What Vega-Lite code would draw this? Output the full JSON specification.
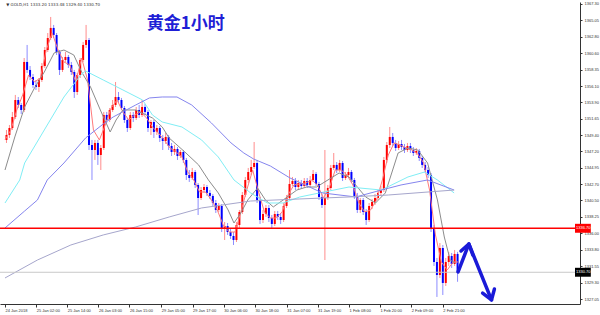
{
"$schema":"https://vega.github.io/schema/vega-lite/v6.json",
"width":580,"height":302,
"autosize":"none",
"padding":{"left":0,"top":2,"right":20,"bottom":11},
"background":"#ffffff",
"config":{"view":{"stroke":null},"font":"Liberation Sans","axis":{"labelOverlap":false,"labelBound":false,"labelSeparation":0}},
"datasets":{
"candles":[
{"t":0.5,"o":1348.75,"h":1350.11,"l":1348.34,"c":1349.43},
{"t":1.5,"o":1349.43,"h":1350.79,"l":1349.02,"c":1350.38},
{"t":2.5,"o":1350.38,"h":1352.57,"l":1350.11,"c":1351.88},
{"t":3.5,"o":1351.88,"h":1354.89,"l":1351.61,"c":1354.20},
{"t":4.5,"o":1354.20,"h":1354.61,"l":1353.11,"c":1353.52},
{"t":5.5,"o":1353.52,"h":1353.79,"l":1352.29,"c":1352.84},
{"t":6.5,"o":1352.84,"h":1359.93,"l":1352.57,"c":1359.39},
{"t":7.5,"o":1359.39,"h":1361.71,"l":1357.89,"c":1358.30},
{"t":8.5,"o":1358.30,"h":1358.84,"l":1356.93,"c":1357.34},
{"t":9.5,"o":1357.34,"h":1357.75,"l":1355.84,"c":1356.25},
{"t":10.5,"o":1356.25,"h":1356.93,"l":1355.57,"c":1355.98},
{"t":11.5,"o":1355.98,"h":1357.20,"l":1355.29,"c":1356.93},
{"t":12.5,"o":1356.93,"h":1359.25,"l":1356.66,"c":1358.84},
{"t":13.5,"o":1358.84,"h":1361.43,"l":1358.57,"c":1361.02},
{"t":14.5,"o":1361.02,"h":1363.34,"l":1360.75,"c":1362.66},
{"t":15.5,"o":1362.66,"h":1365.53,"l":1362.39,"c":1364.03},
{"t":16.5,"o":1364.03,"h":1364.44,"l":1362.66,"c":1363.07},
{"t":17.5,"o":1363.07,"h":1363.34,"l":1360.34,"c":1360.75},
{"t":18.5,"o":1360.75,"h":1361.02,"l":1357.61,"c":1358.30},
{"t":19.5,"o":1358.30,"h":1360.07,"l":1358.02,"c":1359.66},
{"t":20.5,"o":1359.66,"h":1360.75,"l":1359.39,"c":1360.07},
{"t":21.5,"o":1360.07,"h":1360.34,"l":1358.57,"c":1358.98},
{"t":22.5,"o":1358.98,"h":1359.39,"l":1357.61,"c":1358.02},
{"t":23.5,"o":1358.02,"h":1358.30,"l":1354.48,"c":1355.29},
{"t":24.5,"o":1355.29,"h":1357.89,"l":1354.89,"c":1357.61},
{"t":25.5,"o":1357.61,"h":1359.93,"l":1357.20,"c":1359.66},
{"t":26.5,"o":1359.66,"h":1362.12,"l":1359.39,"c":1361.71},
{"t":27.5,"o":1361.71,"h":1364.44,"l":1361.30,"c":1362.39},
{"t":28.5,"o":1362.39,"h":1362.66,"l":1347.38,"c":1348.06},
{"t":29.5,"o":1348.06,"h":1348.75,"l":1343.29,"c":1347.38},
{"t":30.5,"o":1347.38,"h":1348.75,"l":1346.02,"c":1348.34},
{"t":31.5,"o":1348.34,"h":1348.75,"l":1345.34,"c":1346.70},
{"t":32.5,"o":1346.70,"h":1348.06,"l":1344.65,"c":1347.65},
{"t":33.5,"o":1347.65,"h":1352.57,"l":1347.38,"c":1352.16},
{"t":34.5,"o":1352.16,"h":1352.57,"l":1351.07,"c":1351.47},
{"t":35.5,"o":1351.47,"h":1353.11,"l":1351.20,"c":1352.84},
{"t":36.5,"o":1352.84,"h":1354.20,"l":1352.57,"c":1353.52},
{"t":37.5,"o":1353.52,"h":1356.66,"l":1353.25,"c":1354.61},
{"t":38.5,"o":1354.61,"h":1355.29,"l":1353.79,"c":1354.20},
{"t":39.5,"o":1354.20,"h":1354.48,"l":1352.84,"c":1353.11},
{"t":40.5,"o":1353.11,"h":1353.38,"l":1351.07,"c":1351.47},
{"t":41.5,"o":1351.47,"h":1351.75,"l":1349.84,"c":1350.38},
{"t":42.5,"o":1350.38,"h":1352.57,"l":1350.11,"c":1352.16},
{"t":43.5,"o":1352.16,"h":1352.57,"l":1351.20,"c":1351.75},
{"t":44.5,"o":1351.75,"h":1353.25,"l":1351.47,"c":1352.84},
{"t":45.5,"o":1352.84,"h":1353.52,"l":1351.75,"c":1352.16},
{"t":46.5,"o":1352.16,"h":1354.20,"l":1351.88,"c":1353.25},
{"t":47.5,"o":1353.25,"h":1353.66,"l":1352.16,"c":1352.57},
{"t":48.5,"o":1352.57,"h":1352.84,"l":1349.84,"c":1350.38},
{"t":49.5,"o":1350.38,"h":1351.47,"l":1349.43,"c":1351.20},
{"t":50.5,"o":1351.20,"h":1351.47,"l":1349.02,"c":1349.84},
{"t":51.5,"o":1349.84,"h":1350.79,"l":1349.43,"c":1350.38},
{"t":52.5,"o":1350.38,"h":1350.66,"l":1348.47,"c":1349.02},
{"t":53.5,"o":1349.02,"h":1349.43,"l":1347.38,"c":1348.61},
{"t":54.5,"o":1348.61,"h":1349.70,"l":1348.20,"c":1349.16},
{"t":55.5,"o":1349.16,"h":1349.43,"l":1347.38,"c":1347.93},
{"t":56.5,"o":1347.93,"h":1348.34,"l":1346.56,"c":1347.11},
{"t":57.5,"o":1347.11,"h":1348.06,"l":1346.70,"c":1347.52},
{"t":58.5,"o":1347.52,"h":1347.79,"l":1346.02,"c":1346.56},
{"t":59.5,"o":1346.56,"h":1347.38,"l":1346.29,"c":1347.11},
{"t":60.5,"o":1347.11,"h":1347.38,"l":1345.61,"c":1346.02},
{"t":61.5,"o":1346.02,"h":1346.29,"l":1343.29,"c":1343.97},
{"t":62.5,"o":1343.97,"h":1344.65,"l":1343.02,"c":1343.56},
{"t":63.5,"o":1343.56,"h":1344.93,"l":1343.29,"c":1344.38},
{"t":64.5,"o":1344.38,"h":1344.65,"l":1342.20,"c":1342.61},
{"t":65.5,"o":1342.61,"h":1342.88,"l":1338.51,"c":1340.83},
{"t":66.5,"o":1340.83,"h":1342.33,"l":1340.56,"c":1341.92},
{"t":67.5,"o":1341.92,"h":1342.74,"l":1341.52,"c":1342.33},
{"t":68.5,"o":1342.33,"h":1342.61,"l":1341.11,"c":1341.52},
{"t":69.5,"o":1341.52,"h":1341.92,"l":1340.70,"c":1341.11},
{"t":70.5,"o":1341.11,"h":1341.38,"l":1339.74,"c":1340.15},
{"t":71.5,"o":1340.15,"h":1340.56,"l":1338.79,"c":1339.20},
{"t":72.5,"o":1339.20,"h":1340.15,"l":1338.92,"c":1339.74},
{"t":73.5,"o":1339.74,"h":1340.01,"l":1336.19,"c":1336.74},
{"t":74.5,"o":1336.74,"h":1337.56,"l":1335.10,"c":1337.01},
{"t":75.5,"o":1337.01,"h":1337.42,"l":1335.79,"c":1336.19},
{"t":76.5,"o":1336.19,"h":1336.60,"l":1335.24,"c":1335.65},
{"t":77.5,"o":1335.65,"h":1336.19,"l":1334.42,"c":1335.10},
{"t":78.5,"o":1335.10,"h":1337.56,"l":1334.83,"c":1337.15},
{"t":79.5,"o":1337.15,"h":1339.20,"l":1336.74,"c":1338.92},
{"t":80.5,"o":1338.92,"h":1341.65,"l":1338.65,"c":1341.24},
{"t":81.5,"o":1341.24,"h":1343.70,"l":1340.97,"c":1343.29},
{"t":82.5,"o":1343.29,"h":1344.93,"l":1342.88,"c":1344.38},
{"t":83.5,"o":1344.38,"h":1346.02,"l":1343.97,"c":1345.06},
{"t":84.5,"o":1345.06,"h":1348.47,"l":1344.79,"c":1345.61},
{"t":85.5,"o":1345.61,"h":1346.02,"l":1340.15,"c":1340.56},
{"t":86.5,"o":1340.56,"h":1340.97,"l":1337.29,"c":1337.83},
{"t":87.5,"o":1337.83,"h":1339.20,"l":1337.42,"c":1338.65},
{"t":88.5,"o":1338.65,"h":1339.88,"l":1338.24,"c":1339.47},
{"t":89.5,"o":1339.47,"h":1339.88,"l":1337.56,"c":1338.10},
{"t":90.5,"o":1338.10,"h":1338.51,"l":1336.74,"c":1337.29},
{"t":91.5,"o":1337.29,"h":1339.06,"l":1337.01,"c":1338.65},
{"t":92.5,"o":1338.65,"h":1339.06,"l":1337.83,"c":1338.24},
{"t":93.5,"o":1338.24,"h":1338.79,"l":1337.29,"c":1337.83},
{"t":94.5,"o":1337.83,"h":1340.15,"l":1337.56,"c":1339.74},
{"t":95.5,"o":1339.74,"h":1341.24,"l":1339.47,"c":1340.83},
{"t":96.5,"o":1340.83,"h":1344.65,"l":1340.56,"c":1342.74},
{"t":97.5,"o":1342.74,"h":1343.70,"l":1342.47,"c":1343.15},
{"t":98.5,"o":1343.15,"h":1343.56,"l":1341.92,"c":1342.33},
{"t":99.5,"o":1342.33,"h":1343.29,"l":1341.92,"c":1342.88},
{"t":100.5,"o":1342.88,"h":1343.29,"l":1342.06,"c":1342.47},
{"t":101.5,"o":1342.47,"h":1343.56,"l":1342.20,"c":1343.15},
{"t":102.5,"o":1343.15,"h":1343.56,"l":1342.20,"c":1342.61},
{"t":103.5,"o":1342.61,"h":1343.83,"l":1342.33,"c":1343.29},
{"t":104.5,"o":1343.29,"h":1344.65,"l":1343.02,"c":1344.11},
{"t":105.5,"o":1344.11,"h":1344.38,"l":1342.47,"c":1342.74},
{"t":106.5,"o":1342.74,"h":1343.02,"l":1340.56,"c":1340.97},
{"t":107.5,"o":1340.97,"h":1341.38,"l":1339.47,"c":1339.88},
{"t":108.5,"o":1339.88,"h":1347.38,"l":1332.37,"c":1340.83},
{"t":109.5,"o":1340.83,"h":1342.61,"l":1340.56,"c":1342.20},
{"t":110.5,"o":1342.20,"h":1345.34,"l":1341.92,"c":1344.93},
{"t":111.5,"o":1344.93,"h":1346.97,"l":1344.65,"c":1345.34},
{"t":112.5,"o":1345.34,"h":1345.74,"l":1344.24,"c":1344.65},
{"t":113.5,"o":1344.65,"h":1346.02,"l":1344.38,"c":1345.61},
{"t":114.5,"o":1345.61,"h":1345.88,"l":1343.15,"c":1343.56},
{"t":115.5,"o":1343.56,"h":1344.38,"l":1343.29,"c":1343.97},
{"t":116.5,"o":1343.97,"h":1344.93,"l":1343.56,"c":1344.38},
{"t":117.5,"o":1344.38,"h":1344.65,"l":1342.88,"c":1343.29},
{"t":118.5,"o":1343.29,"h":1343.56,"l":1340.70,"c":1341.11},
{"t":119.5,"o":1341.11,"h":1341.52,"l":1338.79,"c":1339.20},
{"t":120.5,"o":1339.20,"h":1340.83,"l":1338.79,"c":1340.56},
{"t":121.5,"o":1340.56,"h":1340.83,"l":1338.51,"c":1338.92},
{"t":122.5,"o":1338.92,"h":1339.33,"l":1337.15,"c":1337.83},
{"t":123.5,"o":1337.83,"h":1340.15,"l":1337.56,"c":1339.74},
{"t":124.5,"o":1339.74,"h":1340.70,"l":1339.33,"c":1340.29},
{"t":125.5,"o":1340.29,"h":1341.38,"l":1339.88,"c":1340.83},
{"t":126.5,"o":1340.83,"h":1341.92,"l":1340.56,"c":1341.52},
{"t":127.5,"o":1341.52,"h":1342.47,"l":1341.11,"c":1341.92},
{"t":128.5,"o":1341.92,"h":1346.43,"l":1341.65,"c":1346.02},
{"t":129.5,"o":1346.02,"h":1348.47,"l":1345.61,"c":1348.06},
{"t":130.5,"o":1348.06,"h":1350.52,"l":1347.65,"c":1349.16},
{"t":131.5,"o":1349.16,"h":1349.70,"l":1347.93,"c":1348.34},
{"t":132.5,"o":1348.34,"h":1348.75,"l":1347.25,"c":1347.65},
{"t":133.5,"o":1347.65,"h":1348.61,"l":1347.38,"c":1348.20},
{"t":134.5,"o":1348.20,"h":1348.75,"l":1347.38,"c":1347.79},
{"t":135.5,"o":1347.79,"h":1348.20,"l":1346.97,"c":1347.38},
{"t":136.5,"o":1347.38,"h":1348.34,"l":1347.11,"c":1347.93},
{"t":137.5,"o":1347.93,"h":1348.34,"l":1346.97,"c":1347.38},
{"t":138.5,"o":1347.38,"h":1347.79,"l":1346.56,"c":1346.97},
{"t":139.5,"o":1346.97,"h":1347.65,"l":1346.70,"c":1347.25},
{"t":140.5,"o":1347.25,"h":1347.52,"l":1345.88,"c":1346.29},
{"t":141.5,"o":1346.29,"h":1346.56,"l":1344.93,"c":1345.34},
{"t":142.5,"o":1345.34,"h":1345.74,"l":1344.24,"c":1344.65},
{"t":143.5,"o":1344.65,"h":1345.06,"l":1343.56,"c":1343.97},
{"t":144.5,"o":1343.97,"h":1344.24,"l":1336.19,"c":1336.74},
{"t":145.5,"o":1336.74,"h":1337.15,"l":1331.56,"c":1332.10},
{"t":146.5,"o":1332.10,"h":1332.65,"l":1327.33,"c":1330.33},
{"t":147.5,"o":1330.33,"h":1334.69,"l":1329.92,"c":1334.01},
{"t":148.5,"o":1334.01,"h":1334.42,"l":1327.60,"c":1329.24},
{"t":149.5,"o":1329.24,"h":1332.65,"l":1328.83,"c":1332.10},
{"t":150.5,"o":1332.10,"h":1333.47,"l":1331.56,"c":1332.92},
{"t":151.5,"o":1332.92,"h":1333.33,"l":1331.28,"c":1331.83},
{"t":152.5,"o":1331.83,"h":1333.74,"l":1331.56,"c":1333.20},
{"t":153.5,"o":1333.20,"h":1333.48,"l":1329.40,"c":1330.70}
],
"ma":[
{"s":"fast","t":0,"v":1348.75},{"s":"fast","t":2,"v":1350.11},{"s":"fast","t":4,"v":1352.84},{"s":"fast","t":6,"v":1354.89},{"s":"fast","t":8,"v":1357.61},{"s":"fast","t":10,"v":1356.66},{"s":"fast","t":12,"v":1357.20},{"s":"fast","t":14,"v":1361.02},{"s":"fast","t":16,"v":1363.34},{"s":"fast","t":18,"v":1361.02},{"s":"fast","t":20,"v":1359.39},{"s":"fast","t":22,"v":1358.98},{"s":"fast","t":24,"v":1356.66},{"s":"fast","t":26,"v":1359.93},{"s":"fast","t":28,"v":1356.93},{"s":"fast","t":30,"v":1350.11},{"s":"fast","t":32,"v":1348.75},{"s":"fast","t":34,"v":1350.79},{"s":"fast","t":36,"v":1353.11},{"s":"fast","t":38,"v":1354.20},{"s":"fast","t":40,"v":1352.57},{"s":"fast","t":42,"v":1351.47},{"s":"fast","t":44,"v":1352.16},{"s":"fast","t":46,"v":1352.57},{"s":"fast","t":48,"v":1351.75},{"s":"fast","t":50,"v":1350.52},{"s":"fast","t":52,"v":1349.70},{"s":"fast","t":54,"v":1348.75},{"s":"fast","t":56,"v":1347.65},{"s":"fast","t":58,"v":1347.11},{"s":"fast","t":60,"v":1346.43},{"s":"fast","t":62,"v":1344.38},{"s":"fast","t":64,"v":1343.29},{"s":"fast","t":66,"v":1341.65},{"s":"fast","t":68,"v":1341.65},{"s":"fast","t":70,"v":1340.56},{"s":"fast","t":72,"v":1339.20},{"s":"fast","t":74,"v":1337.15},{"s":"fast","t":76,"v":1336.19},{"s":"fast","t":78,"v":1336.19},{"s":"fast","t":80,"v":1338.92},{"s":"fast","t":82,"v":1341.92},{"s":"fast","t":84,"v":1344.65},{"s":"fast","t":86,"v":1341.65},{"s":"fast","t":88,"v":1338.92},{"s":"fast","t":90,"v":1338.10},{"s":"fast","t":92,"v":1338.10},{"s":"fast","t":94,"v":1338.92},{"s":"fast","t":96,"v":1341.24},{"s":"fast","t":98,"v":1342.61},{"s":"fast","t":100,"v":1342.74},{"s":"fast","t":102,"v":1342.88},{"s":"fast","t":104,"v":1343.29},{"s":"fast","t":106,"v":1342.61},{"s":"fast","t":108,"v":1340.83},{"s":"fast","t":110,"v":1342.20},{"s":"fast","t":112,"v":1344.65},{"s":"fast","t":114,"v":1344.65},{"s":"fast","t":116,"v":1343.97},{"s":"fast","t":118,"v":1342.61},{"s":"fast","t":120,"v":1340.15},{"s":"fast","t":122,"v":1338.92},{"s":"fast","t":124,"v":1339.20},{"s":"fast","t":126,"v":1340.56},{"s":"fast","t":128,"v":1343.29},{"s":"fast","t":130,"v":1346.70},{"s":"fast","t":132,"v":1348.34},{"s":"fast","t":134,"v":1348.06},{"s":"fast","t":136,"v":1347.65},{"s":"fast","t":138,"v":1347.38},{"s":"fast","t":140,"v":1346.84},{"s":"fast","t":142,"v":1345.61},{"s":"fast","t":144,"v":1341.92},{"s":"fast","t":146,"v":1335.79},{"s":"fast","t":148,"v":1332.10},{"s":"fast","t":150,"v":1331.01},{"s":"fast","t":152,"v":1332.10},{"s":"fast","t":153.67,"v":1332.10},
{"s":"mid","t":0,"v":1344.65},{"s":"mid","t":3.33,"v":1349.16},{"s":"mid","t":6.67,"v":1353.25},{"s":"mid","t":10,"v":1355.84},{"s":"mid","t":13.33,"v":1358.02},{"s":"mid","t":16.67,"v":1360.62},{"s":"mid","t":20,"v":1361.02},{"s":"mid","t":23.33,"v":1360.34},{"s":"mid","t":26,"v":1358.02},{"s":"mid","t":29,"v":1355.98},{"s":"mid","t":32.33,"v":1352.84},{"s":"mid","t":35.67,"v":1349.84},{"s":"mid","t":37.67,"v":1351.47},{"s":"mid","t":40,"v":1352.84},{"s":"mid","t":44.33,"v":1352.84},{"s":"mid","t":50,"v":1351.75},{"s":"mid","t":53.33,"v":1350.52},{"s":"mid","t":55.67,"v":1349.02},{"s":"mid","t":61,"v":1347.11},{"s":"mid","t":65.67,"v":1345.34},{"s":"mid","t":69,"v":1343.29},{"s":"mid","t":72.33,"v":1341.52},{"s":"mid","t":75.67,"v":1339.20},{"s":"mid","t":77.67,"v":1337.42},{"s":"mid","t":80,"v":1338.79},{"s":"mid","t":82.33,"v":1340.56},{"s":"mid","t":85.67,"v":1342.20},{"s":"mid","t":88.33,"v":1340.56},{"s":"mid","t":91,"v":1339.61},{"s":"mid","t":94.33,"v":1340.56},{"s":"mid","t":99,"v":1341.92},{"s":"mid","t":102.33,"v":1342.33},{"s":"mid","t":105.67,"v":1342.33},{"s":"mid","t":113.33,"v":1344.24},{"s":"mid","t":116.67,"v":1343.70},{"s":"mid","t":122.33,"v":1340.97},{"s":"mid","t":125.67,"v":1340.15},{"s":"mid","t":129,"v":1341.52},{"s":"mid","t":133.33,"v":1346.97},{"s":"mid","t":136.67,"v":1347.65},{"s":"mid","t":140,"v":1347.38},{"s":"mid","t":143.33,"v":1345.61},{"s":"mid","t":146.67,"v":1340.56},{"s":"mid","t":149,"v":1335.51},{"s":"mid","t":151,"v":1332.37},{"s":"mid","t":152.67,"v":1331.97},
{"s":"ma50","t":0,"v":1340.15},{"s":"ma50","t":5,"v":1343.29},{"s":"ma50","t":6.67,"v":1345.61},{"s":"ma50","t":13.33,"v":1350.11},{"s":"ma50","t":20,"v":1354.61},{"s":"ma50","t":25.67,"v":1357.61},{"s":"ma50","t":27.33,"v":1358.16},{"s":"ma50","t":33.33,"v":1356.93},{"s":"ma50","t":40,"v":1355.57},{"s":"ma50","t":46.67,"v":1354.20},{"s":"ma50","t":50,"v":1352.16},{"s":"ma50","t":53.33,"v":1351.20},{"s":"ma50","t":60,"v":1350.52},{"s":"ma50","t":66.67,"v":1348.75},{"s":"ma50","t":72.33,"v":1346.43},{"s":"ma50","t":77.67,"v":1343.29},{"s":"ma50","t":83.33,"v":1341.52},{"s":"ma50","t":89,"v":1340.15},{"s":"ma50","t":94.33,"v":1340.15},{"s":"ma50","t":100,"v":1340.97},{"s":"ma50","t":106.67,"v":1341.52},{"s":"ma50","t":116.67,"v":1342.33},{"s":"ma50","t":127.67,"v":1341.92},{"s":"ma50","t":136.67,"v":1343.70},{"s":"ma50","t":142.33,"v":1344.38},{"s":"ma50","t":146.67,"v":1343.29},{"s":"ma50","t":152.33,"v":1341.52},
{"s":"ma100","t":0,"v":1336.74},{"s":"ma100","t":6.67,"v":1339.06},{"s":"ma100","t":11,"v":1340.56},{"s":"ma100","t":14.33,"v":1343.29},{"s":"ma100","t":20,"v":1345.61},{"s":"ma100","t":27.33,"v":1349.02},{"s":"ma100","t":33.33,"v":1350.93},{"s":"ma100","t":36.67,"v":1351.88},{"s":"ma100","t":44.33,"v":1353.52},{"s":"ma100","t":49,"v":1354.48},{"s":"ma100","t":53.33,"v":1354.61},{"s":"ma100","t":58.33,"v":1354.61},{"s":"ma100","t":63.33,"v":1353.52},{"s":"ma100","t":70,"v":1351.07},{"s":"ma100","t":76.67,"v":1348.34},{"s":"ma100","t":81,"v":1346.97},{"s":"ma100","t":84.33,"v":1346.15},{"s":"ma100","t":90,"v":1345.20},{"s":"ma100","t":96.67,"v":1343.56},{"s":"ma100","t":107.67,"v":1341.52},{"s":"ma100","t":119,"v":1340.97},{"s":"ma100","t":127.67,"v":1341.92},{"s":"ma100","t":134.33,"v":1342.61},{"s":"ma100","t":143.33,"v":1343.29},{"s":"ma100","t":152.33,"v":1341.92},
{"s":"ma200","t":0,"v":1329.92},{"s":"ma200","t":11,"v":1332.37},{"s":"ma200","t":22.33,"v":1334.42},{"s":"ma200","t":33.33,"v":1335.79},{"s":"ma200","t":44.33,"v":1336.88},{"s":"ma200","t":55.67,"v":1338.24},{"s":"ma200","t":66.67,"v":1339.47},{"s":"ma200","t":83.33,"v":1340.42},{"s":"ma200","t":100,"v":1340.70},{"s":"ma200","t":116.67,"v":1340.97},{"s":"ma200","t":130,"v":1341.24},{"s":"ma200","t":152.33,"v":1341.92}
],
"arrows":[
{"seg":"a","k":0,"t":153.67,"v":1330.74},{"seg":"a","k":1,"t":157.33,"v":1334.56},{"seg":"a","k":2,"t":165,"v":1326.92},
{"seg":"b","k":0,"t":154.67,"v":1333.60},{"seg":"b","k":1,"t":157.33,"v":1334.56},{"seg":"b","k":2,"t":158.67,"v":1333.06},
{"seg":"c","k":0,"t":162,"v":1327.87},{"seg":"c","k":1,"t":165,"v":1326.92},{"seg":"c","k":2,"t":166,"v":1328.42}
],
"one":[{}]
},
"layer":[
{"data":{"name":"candles"},
 "mark":{"type":"rule","strokeWidth":1},
 "encoding":{
  "x":{"field":"t","type":"quantitative","scale":{"domain":[0,193.33],"nice":false,"zero":false},
   "axis":{"title":null,"tickCount":40,"values":[0,10.6,21.1,31.7,42.2,53,63.6,74.2,84.8,95.6,106,116.7,127.2,137.8,148.5],
    "labelExpr":"['24 Jan 2018','25 Jan 02:00','25 Jan 14:00','26 Jan 03:00','26 Jan 15:00','29 Jan 05:00','29 Jan 17:00','30 Jan 06:00','30 Jan 18:00','31 Jan 07:00','31 Jan 19:00','1 Feb 08:00','1 Feb 20:00','2 Feb 09:00','2 Feb 21:00'][indexof([0,10.6,21.1,31.7,42.2,53,63.6,74.2,84.8,95.6,106,116.7,127.2,137.8,148.5], datum.value)]",
    "labelAlign":"left","labelBaseline":"top","labelDx":1.5,"labelPadding":1,"labelFontSize":4,"labelColor":"#333333","labelOverlap":false,"labelFlush":false,"tickSize":3,"tickColor":"#333333","domainColor":"#333333","grid":false}},
  "y":{"field":"l","type":"quantitative","scale":{"domain":[1326.37,1367.57],"nice":false,"zero":false},
   "axis":{"title":null,"orient":"right","tickCount":40,"values":[1367.30,1365.05,1362.80,1360.60,1358.35,1356.10,1353.90,1351.65,1349.40,1347.20,1344.95,1342.70,1340.50,1338.25,1336.00,1333.80,1331.55,1329.30,1327.05],
    "format":".2f","labelFontSize":4,"labelColor":"#333333","labelPadding":2,"labelOverlap":false,"labelFlush":false,"tickSize":2,"tickColor":"#333333","domainColor":"#333333","grid":false}},
  "y2":{"field":"h"},
  "color":{"condition":{"test":"datum.c > datum.o","value":"#ff8c8c"},"value":"#8c8cff"}}},
{"data":{"name":"candles"},
 "mark":{"type":"bar","size":2},
 "encoding":{
  "x":{"field":"t","type":"quantitative"},
  "y":{"field":"o","type":"quantitative"},
  "y2":{"field":"c"},
  "color":{"condition":{"test":"datum.c > datum.o","value":"#ff0000"},"value":"#0000ff"}}},
{"data":{"name":"ma"},
 "mark":{"type":"line","strokeWidth":1},
 "encoding":{
  "x":{"field":"t","type":"quantitative"},
  "y":{"field":"v","type":"quantitative"},
  "color":{"field":"s","type":"nominal","legend":null,"scale":{"domain":["fast","mid","ma50","ma100","ma200"],"range":["#ff7a7a","#8c8c8c","#80eef5","#8585ee","#a6a6cc"]}}}},
{"data":{"name":"one"},"mark":{"type":"rule","color":"#c8c8c8","strokeWidth":1},"encoding":{"y":{"datum":1330.70,"type":"quantitative"}}},
{"data":{"name":"one"},"mark":{"type":"rule","color":"#ff0000","strokeWidth":1.5},"encoding":{"y":{"datum":1336.70,"type":"quantitative"}}},
{"data":{"name":"arrows"},
 "mark":{"type":"line","strokeWidth":3.5,"color":"#1a1ad8","strokeCap":"round","strokeJoin":"round"},
 "encoding":{
  "x":{"field":"t","type":"quantitative"},
  "y":{"field":"v","type":"quantitative"},
  "detail":{"field":"seg"},
  "order":{"field":"k"}}},
{"data":{"name":"one"},"mark":{"type":"rect","color":"#ff0000"},
 "encoding":{"x":{"datum":193.33,"type":"quantitative"},"x2":{"datum":198.7},"y":{"datum":1337.31,"type":"quantitative"},"y2":{"datum":1336.09}}},
{"data":{"name":"one"},"mark":{"type":"rect","color":"#000000"},
 "encoding":{"x":{"datum":193.33,"type":"quantitative"},"x2":{"datum":198.7},"y":{"datum":1331.31,"type":"quantitative"},"y2":{"datum":1330.09}}},
{"data":{"name":"one"},"mark":{"type":"text","color":"#ffffff","fontSize":4,"align":"left","baseline":"middle","dx":1},
 "encoding":{"x":{"datum":193.33,"type":"quantitative"},"y":{"datum":1336.70,"type":"quantitative"},"text":{"value":"1336.70"}}},
{"data":{"name":"one"},"mark":{"type":"text","color":"#ffffff","fontSize":4,"align":"left","baseline":"middle","dx":1},
 "encoding":{"x":{"datum":193.33,"type":"quantitative"},"y":{"datum":1330.70,"type":"quantitative"},"text":{"value":"1330.70"}}},
{"data":{"name":"one"},"mark":{"type":"text","color":"#333333","fontSize":4,"align":"left","baseline":"middle","font":"DejaVu Sans"},
 "encoding":{"x":{"datum":0.4,"type":"quantitative"},"y":{"datum":1367.16,"type":"quantitative"},"text":{"value":"▼ GOLD,H1  1333.20 1333.48 1329.40 1330.70"}}},
{"data":{"name":"one"},"mark":{"type":"text","color":"#1f1fd6","fontSize":17,"fontWeight":"bold","align":"center","baseline":"middle","font":"Noto Sans CJK SC"},
 "encoding":{"x":{"datum":61.3,"type":"quantitative"},"y":{"datum":1364.57,"type":"quantitative"},"text":{"value":"黄金1小时"}}}
]
}
